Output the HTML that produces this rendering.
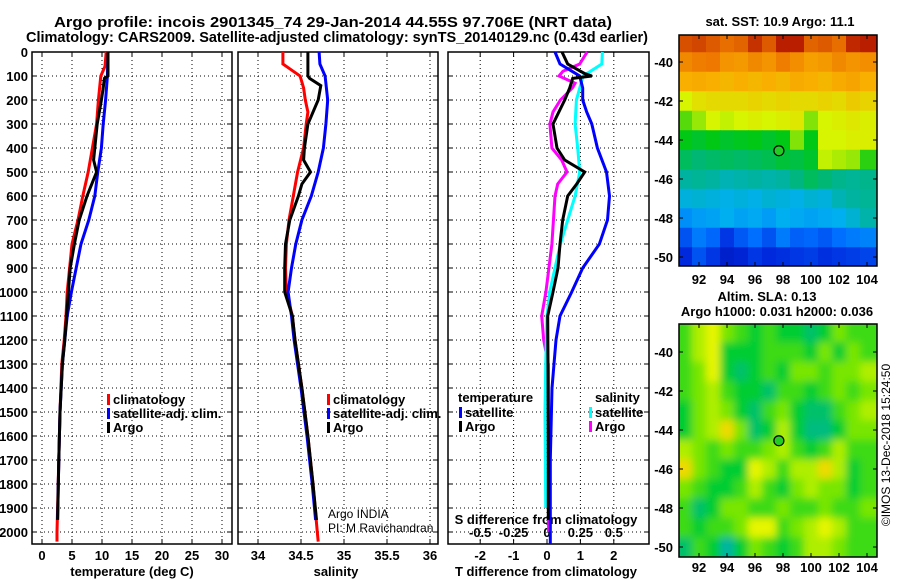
<!DOCTYPE html>
<html><head><meta charset="utf-8"><style>
html,body{margin:0;padding:0;background:#fff}
svg{display:block;font-family:"Liberation Sans",sans-serif}
.b{font-weight:bold;font-size:13px}
</style></head><body>
<svg id="s" width="900" height="580" viewBox="0 0 900 580" xmlns="http://www.w3.org/2000/svg">
<defs>
<clipPath id="cm1"><rect x="679" y="35" width="198" height="231"/></clipPath>
<clipPath id="cm2"><rect x="679" y="324" width="198" height="233"/></clipPath>
<filter id="blur" x="-5%" y="-5%" width="110%" height="110%"><feGaussianBlur stdDeviation="4"/></filter>
</defs>
<text x="54" y="27" class="b" style="font-size:15px" textLength="558" lengthAdjust="spacingAndGlyphs">Argo profile: incois 2901345_74 29-Jan-2014 44.55S 97.706E (NRT data)</text>
<text x="26" y="42" class="b" style="font-size:15px" textLength="622" lengthAdjust="spacingAndGlyphs">Climatology: CARS2009. Satellite-adjusted climatology: synTS_20140129.nc (0.43d earlier)</text>
<g id="g"></g>
</svg>
<script>
// ---------- data ----------
var depthTicks=[0,100,200,300,400,500,600,700,800,900,1000,1100,1200,1300,1400,1500,1600,1700,1800,1900,2000];
var tTicks=[0,5,10,15,20,25,30];
var sTicks=[34,34.5,35,35.5,36];
var dTicks=[-2,-1,0,1,2];
var sdTickLabels=["-0.5","-0.25","0","0.25","0.5"];
var sdTickVals=[-0.5,-0.25,0,0.25,0.5];

var tClimDepth=[0,60,100,200,300,400,500,600,700,800,900,1000,1100,1200,1300,1500,1700,2000,2040];
var tClimVal=[10.7,10.5,9.8,9.4,9.1,8.4,7.7,6.8,6.0,5.0,4.6,4.2,4.0,3.7,3.3,3.0,2.8,2.5,2.5];
var tSatDepth=[0,100,200,300,400,500,600,700,800,900,1000,1100,1200,1300,1500,1700,1950];
var tSatVal=[11.0,10.9,10.6,10.2,9.9,9.3,8.8,7.8,6.5,5.7,4.9,4.2,3.8,3.4,3.0,2.8,2.6];
var tArgoDepth=[0,100,110,150,200,300,400,450,500,600,700,800,900,1000,1100,1200,1300,1500,1700,1950];
var tArgoVal=[11.0,11.0,10.4,10.2,9.9,9.2,8.8,8.6,9.1,7.5,6.2,5.4,4.7,4.4,4.1,3.8,3.4,3.0,2.8,2.6];

var sClimDepth=[0,50,70,100,150,200,250,300,400,500,600,700,800,900,1000,1100,1200,1400,1600,1800,2000,2040];
var sClimVal=[34.29,34.29,34.37,34.49,34.53,34.55,34.58,34.56,34.53,34.46,34.41,34.36,34.33,34.32,34.33,34.40,34.43,34.51,34.58,34.64,34.69,34.70];
var sSatDepth=[0,50,100,200,300,400,500,600,700,800,900,1000,1100,1200,1400,1600,1800,1950];
var sSatVal=[34.71,34.72,34.78,34.81,34.79,34.76,34.70,34.62,34.51,34.44,34.39,34.35,34.39,34.42,34.50,34.57,34.63,34.67];
var sArgoDepth=[0,100,110,140,200,300,400,450,500,550,600,700,800,900,1000,1100,1200,1400,1600,1800,1950];
var sArgoVal=[34.58,34.58,34.60,34.73,34.70,34.58,34.54,34.53,34.61,34.51,34.47,34.37,34.32,34.31,34.31,34.40,34.43,34.51,34.58,34.64,34.68];

var dTSatDepth=[0,50,100,150,200,250,300,400,500,600,700,800,900,1000,1100,1200,1400,1700,2050];
var dTSatVal=[0.24,0.39,0.98,1.07,1.07,1.19,1.34,1.51,1.78,1.87,1.81,1.57,1.07,0.74,0.39,0.27,0.15,0.1,0.1];
var dTArgoDepth=[0,50,90,100,110,150,200,300,400,450,500,550,600,700,800,900,1000,1100,1300,1700,1950];
var dTArgoVal=[0.45,0.62,1.13,1.34,0.77,0.68,0.53,0.18,0.30,0.53,1.13,0.89,0.62,0.47,0.39,0.33,0.18,0.02,0.03,0.04,0.04];
var dSSatDepth=[0,50,100,200,300,400,500,600,700,800,900,1000,1100,1300,1500,1900];
var dSSatVal=[0.415,0.41,0.27,0.22,0.21,0.23,0.245,0.21,0.155,0.10,0.06,0.02,0.0,-0.01,-0.015,-0.01];
var dSArgoDepth=[0,50,80,100,130,150,200,250,300,400,450,500,550,600,800,1000,1100,1200,1300,1600,2000];
var dSArgoVal=[0.30,0.245,0.12,0.09,0.21,0.19,0.10,0.045,0.022,0.037,0.11,0.15,0.08,0.06,0.037,-0.008,-0.04,-0.025,0.01,0.012,0.012];

var mapLons=[91,92,93,94,95,96,97,98,99,100,101,102,103,104];
var mapLats=[-39,-40,-41,-42,-43,-44,-45,-46,-47,-48,-49,-50];
var sstGrid=[
[8.4,8.5,8.3,8.1,8.2,8.7,8.3,8.9,8.9,8.2,8.3,8.1,8.8,8.9],
[7.7,7.9,8.0,7.5,7.4,7.7,7.5,7.9,7.6,7.3,7.4,7.7,7.5,7.6],
[7.0,7.1,7.0,6.9,7.0,6.9,7.0,6.9,7.1,7.0,6.9,7.1,7.2,7.0],
[6.0,6.3,6.4,6.4,6.4,6.5,6.4,6.5,6.4,6.4,6.5,6.4,6.6,6.5],
[5.4,5.7,6.0,5.9,6.0,6.1,6.0,6.1,6.2,5.6,6.0,6.1,6.2,6.1],
[5.0,4.8,5.0,4.8,4.9,5.0,4.8,5.0,5.6,5.0,6.0,6.0,6.1,6.1],
[4.4,4.2,4.3,4.4,4.3,4.4,4.5,4.7,4.6,4.8,5.9,5.8,5.7,5.2],
[3.8,3.9,3.8,3.6,3.7,3.8,3.7,3.8,4.1,4.4,4.2,4.0,3.9,4.0],
[3.2,3.3,3.2,3.1,3.2,3.1,3.3,3.2,3.1,3.3,3.2,3.6,3.8,3.9],
[2.5,2.7,2.8,3.0,2.8,2.9,2.7,3.0,2.9,2.8,2.9,3.0,3.3,3.7],
[1.6,2.2,1.9,1.2,1.7,2.0,1.6,2.2,1.8,1.9,1.7,2.0,2.2,2.3],
[1.0,1.6,1.2,0.8,0.9,1.2,1.0,1.1,1.2,1.3,1.1,1.2,1.3,1.4]];
var slaGrid=[
[1.5,2.5,3,2,1.5,1,1.5,1,1,0.5,1,2,1.5,1.5],
[1.5,2.5,3,1,1,1,1.5,1.5,1.5,1,2,1,2,1.5],
[1.5,2,3,1,0.5,1,1.5,1,2,2,1.5,2,2,2.5],
[1.5,2,2.5,1.5,1,1,0.5,1.5,1.5,1,1.5,2,1.5,2],
[1,2,2.5,2,1,0.5,1.5,2,1,0.5,0.5,1.5,2,2.5],
[1,2,2.5,3.5,2,0.5,1,2.5,1,0.3,0.3,1,2,2],
[2.5,2,1.5,2,1.5,1.5,2,2.5,1.5,1,1.5,2.5,1.5,1.5],
[3.5,2,1.5,1,1,3,2.5,1.5,2.5,2.5,3.5,2.5,1,1.5],
[2,1.5,1,1,1.5,2.5,1.5,1,2,2.5,2,2,1,1.5],
[1.5,0.5,1,2,2,1.5,1.5,2,1.5,1.5,2,1.5,1.5,2],
[1.5,1,1.5,1.5,2,3,3,1.5,2,2.5,3,2.5,1.5,1.5],
[0.5,1.5,1,0,1,2,1.5,1,1.5,2.5,2.5,2,1.5,1.5]];
var argoLon=97.706, argoLat=-44.55;
var mapLatTicks=[-40,-42,-44,-46,-48,-50];
var mapLonTicks=[92,94,96,98,100,102,104];

// ---------- helpers ----------
var NS="http://www.w3.org/2000/svg", G=document.getElementById('g');
function mk(tag,at,txt){var e=document.createElementNS(NS,tag);for(var k in at)e.setAttribute(k,at[k]);if(txt!==undefined)e.textContent=txt;G.appendChild(e);return e;}
function yD(d){return 52+d*0.24;}
var TOP=52,BOT=544;
var panels=[
 {x0:32,x1:232,sx:function(v){return 42+v*6;}},
 {x0:238,x1:438,sx:function(v){return 258+(v-34)*86;}},
 {x0:448,x1:649,sx:function(v){return 547+v*33.4;}}
];
function sdX(v){return 547+v*4*33.4;}
function frame(p,name,ticks){
  var r=mk('rect',{x:p.x0,y:TOP,width:p.x1-p.x0,height:BOT-TOP,fill:'#fff',stroke:'#000','stroke-width':1.5});
  
  
  depthTicks.forEach(function(d){
    var l=mk('line',{x1:p.x0,x2:p.x1,y1:yD(d),y2:yD(d),stroke:'#000','stroke-dasharray':'1,3','stroke-width':1});
    
    
    mk('line',{x1:p.x0,x2:p.x0+5,y1:yD(d),y2:yD(d),stroke:'#000'});
    mk('line',{x1:p.x1-5,x2:p.x1,y1:yD(d),y2:yD(d),stroke:'#000'});
  });
  ticks.forEach(function(v){
    var x=p.sx(v);
    var l=mk('line',{x1:x,x2:x,y1:TOP,y2:BOT,stroke:'#000','stroke-dasharray':'1,3','stroke-width':1});
    
    
    mk('line',{x1:x,x2:x,y1:TOP,y2:TOP+5,stroke:'#000'});
    mk('line',{x1:x,x2:x,y1:BOT-5,y2:BOT,stroke:'#000'});
  });
}
function line(p,depths,vals,color,name,sx){
  var f=sx||p.sx;
  var pts=depths.map(function(d,i){return f(vals[i]).toFixed(1)+','+yD(d).toFixed(1);}).join(' ');
  var e=mk('polyline',{points:pts,fill:'none',stroke:color,'stroke-width':3,'stroke-linejoin':'miter'});
  
  
}
function txt(x,y,s,anchor,name,extra){
  var a={x:x,y:y,'font-size':13,'font-weight':'bold','text-anchor':anchor||'start'};
  if(extra)for(var k in extra)a[k]=extra[k];
  var e=mk('text',a,s);
  
  
  return e;
}
function legendItem(x,y,color,label,name){
  var m=mk('rect',{x:x,y:y-9,width:3,height:11,fill:color});
  
  
  txt(x+6,y+1,label,'start',name);
}

// ---------- panels ----------
frame(panels[0],'temperature-panel',tTicks);
frame(panels[1],'salinity-panel',sTicks);
frame(panels[2],'difference-panel',dTicks);

depthTicks.forEach(function(d){txt(28,yD(d)+5,String(d),'end','depth-tick-label');});
tTicks.forEach(function(v){txt(panels[0].sx(v),560,String(v),'middle','temperature-tick-label');});
sTicks.forEach(function(v){txt(panels[1].sx(v),560,String(v),'middle','salinity-tick-label');});
dTicks.forEach(function(v){txt(panels[2].sx(v),560,String(v),'middle','t-difference-tick-label');});
sdTickVals.forEach(function(v,i){txt(sdX(v),537,sdTickLabels[i],'middle','s-difference-tick-label');});
txt(132,576,'temperature (deg C)','middle','x-axis-title-temperature');
txt(336,576,'salinity','middle','x-axis-title-salinity');
txt(546,576,'T difference from climatology','middle','x-axis-title-t-difference');
txt(546,524,'S difference from climatology','middle','s-difference-axis-title');

line(panels[0],tClimDepth,tClimVal,'#f00','temperature-climatology-line');
line(panels[0],tSatDepth,tSatVal,'#00f','temperature-satellite-line');
line(panels[0],tArgoDepth,tArgoVal,'#000','temperature-argo-line');
line(panels[1],sClimDepth,sClimVal,'#f00','salinity-climatology-line');
line(panels[1],sSatDepth,sSatVal,'#00f','salinity-satellite-line');
line(panels[1],sArgoDepth,sArgoVal,'#000','salinity-argo-line');
line(panels[2],dSArgoDepth,dSArgoVal,'#f0f','s-diff-argo-line',sdX);
line(panels[2],dSSatDepth,dSSatVal,'#0ff','s-diff-satellite-line',sdX);
line(panels[2],dTSatDepth,dTSatVal,'#00f','t-diff-satellite-line');
line(panels[2],dTArgoDepth,dTArgoVal,'#000','t-diff-argo-line');

legendItem(107,403,'#f00','climatology','legend-temp-climatology');
legendItem(107,417,'#00f','satellite-adj. clim.','legend-temp-satellite');
legendItem(107,431,'#000','Argo','legend-temp-argo');
legendItem(327,403,'#f00','climatology','legend-sal-climatology');
legendItem(327,417,'#00f','satellite-adj. clim.','legend-sal-satellite');
legendItem(327,431,'#000','Argo','legend-sal-argo');
txt(458,402,'temperature','start','legend-temperature-heading');
legendItem(459,416,'#00f','satellite','legend-tdiff-satellite');
legendItem(459,430,'#000','Argo','legend-tdiff-argo');
txt(595,402,'salinity','start','legend-salinity-heading');
legendItem(589,416,'#0ff','satellite','legend-sdiff-satellite');
legendItem(589,430,'#f0f','Argo','legend-sdiff-argo');
txt(328,518,'Argo INDIA','start','argo-india-note',{'font-weight':'normal','font-size':12});
txt(328,532,'PI: M Ravichandran','start','pi-note',{'font-weight':'normal','font-size':12});

// ---------- maps ----------
var sstPal=[[0,0,140],[0,40,220],[0,110,255],[0,175,240],[0,180,140],[0,200,20],[215,245,0],[248,175,0],[238,120,0],[180,20,0]];
var slaPal=[[0,180,160],[0,205,50],[120,230,0],[230,245,0],[245,190,0]];
function col(p,v){v=Math.max(0,Math.min(p.length-1,v));var i=Math.floor(v),f=v-i,a=p[i],b=p[Math.min(i+1,p.length-1)];
 return 'rgb('+[0,1,2].map(function(k){return Math.round(a[k]+(b[k]-a[k])*f);}).join(',')+')';}
var maps=[{y0:35,y1:266,lat40:62,name:'sst-map',grid:sstGrid,pal:sstPal,clip:'cm1',blur:false,lab:284},
          {y0:324,y1:557,lat40:352,name:'sla-map',grid:slaGrid,pal:slaPal,clip:'cm2',blur:true,lab:572}];
var MX0=679,MX1=877;
function mx(lon){return 699+(lon-92)*14;}
maps.forEach(function(m){
  var my=function(lat){return m.lat40+(-40-lat)*19.5;};
  var grp=document.createElementNS(NS,'g');grp.setAttribute('clip-path','url(#'+m.clip+')');
  
  
  G.appendChild(grp);
  var inner=document.createElementNS(NS,'g');if(m.blur)inner.setAttribute('filter','url(#blur)');grp.appendChild(inner);
  mapLats.forEach(function(lat,r){mapLons.forEach(function(lon,c){
    var x0=mx(lon-0.5),y0=my(lat+0.5);
    if(m.blur){x0-= (c==0?20:0);}
    var w=14+(m.blur&&(c==0||c==13)?20:0), h=19.5+(m.blur&&(r==0||r==11)?20:0);
    if(m.blur&&r==0)y0-=20;
    if(!m.blur&&r==0){y0-=10;h+=10;}
    if(!m.blur&&c==0){x0-=3;w+=3;}
    if(!m.blur&&c==13){w+=3;}
    var e=document.createElementNS(NS,'rect');
    e.setAttribute('x',x0);e.setAttribute('y',y0);e.setAttribute('width',w+0.5);e.setAttribute('height',h+0.5);
    e.setAttribute('fill',col(m.pal,m.grid[r][c]));
    
    
    inner.appendChild(e);
  });});
  var fr=mk('rect',{x:MX0,y:m.y0,width:MX1-MX0,height:m.y1-m.y0,fill:'none',stroke:'#000','stroke-width':1.5});
  
  
  mapLatTicks.forEach(function(lat){var y=my(lat);
    mk('line',{x1:MX0,x2:MX0+4,y1:y,y2:y,stroke:'#000'});mk('line',{x1:MX1-4,x2:MX1,y1:y,y2:y,stroke:'#000'});
    txt(673,y+5,String(lat),'end',m.name+'-lat-label');});
  mapLonTicks.forEach(function(lon){var x=mx(lon);
    mk('line',{x1:x,x2:x,y1:m.y0,y2:m.y0+4,stroke:'#000'});mk('line',{x1:x,x2:x,y1:m.y1-4,y2:m.y1,stroke:'#000'});
    txt(x,m.lab,String(lon),'middle',m.name+'-lon-label');});
  var c=mk('circle',{cx:mx(argoLon),cy:my(argoLat),r:5,fill:'#2c2',stroke:'#000','stroke-width':1.2});
  
  
});
txt(780,26,'sat. SST: 10.9 Argo: 11.1','middle','sst-map-title');
txt(767,301,'Altim. SLA: 0.13','middle','sla-map-title');
txt(777,316,'Argo h1000: 0.031 h2000: 0.036','middle','sla-map-subtitle');
txt(0,0,'\u00A9IMOS 13-Dec-2018 15:24:50','middle','imos-timestamp',{'font-weight':'normal','font-size':12,transform:'translate(890,445) rotate(-90)'});
</script>
</body></html>
